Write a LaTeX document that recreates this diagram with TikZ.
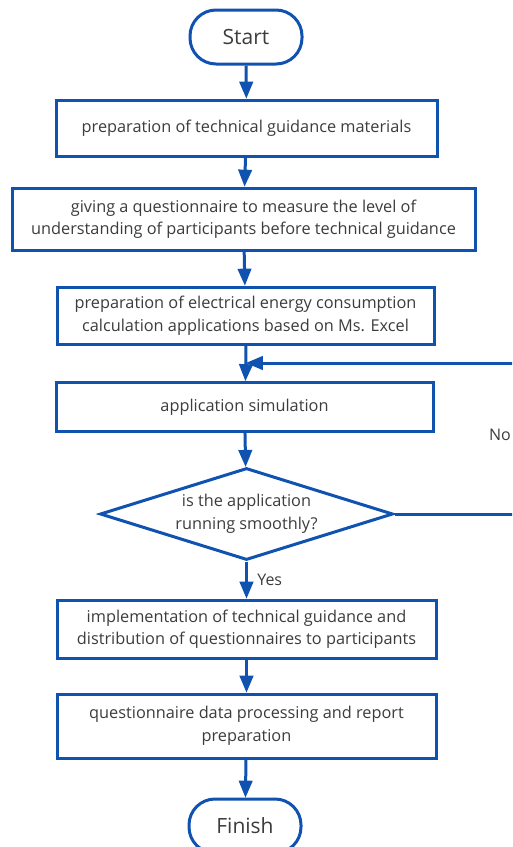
\documentclass[tikz,border=0pt]{standalone}
\usepackage{fontspec}
\setmainfont{Open Sans}
\usepackage{tikz}
\usetikzlibrary{shapes,arrows}

\definecolor{flowblue}{RGB}{16,82,176}
\definecolor{flowtext}{RGB}{60,60,60}

\tikzset{
	terminal/.style={draw=flowblue, line width=3pt, rounded corners=26pt, minimum width=112pt, minimum height=54pt, inner sep=0pt, text=flowtext, font=\fontsize{21}{24}\selectfont},
	process/.style={draw=flowblue, line width=3pt, fill=white, inner sep=0pt, align=center, text=flowtext, font=\fontsize{16.3}{22.5}\selectfont},
	decision/.style={draw=flowblue, line width=3pt, diamond, aspect=3.2, inner sep=0pt, align=center, text=flowtext, font=\fontsize{16.3}{23}\selectfont},
	flow/.style={draw=flowblue, line width=3pt, -triangle 45},
	flowline/.style={draw=flowblue, line width=3pt},
	answer/.style={text=flowtext, font=\fontsize{16}{18}\selectfont}
}

\begin{document}
\begin{tikzpicture}[x=1pt, y=1pt]
			\clip (0, 0) rectangle (512, -847);
			\useasboundingbox (0, 0) rectangle (512, -847);
			
			\node[terminal] (start) at (246, -37) {Start};
			\node[process, minimum width=381pt, minimum height=56pt] (materials) at (246.5, -128) {preparation of technical guidance materials};
			\node[process, minimum width=463pt, minimum height=62pt] (pretest) at (243.5, -219) {giving a questionnaire to measure the level of\\understanding of participants before technical guidance};
			\node[process, minimum width=377pt, minimum height=57pt] (excel) at (245.5, -315.5) {preparation of electrical energy consumption\\calculation applications based on Ms. Excel};
			\coordinate (join) at (246, -363);
			\node[process, minimum width=377pt, minimum height=49pt] (simulation) at (244.5, -407) {application simulation};
			\node[decision, minimum width=293pt, minimum height=92pt] (check) at (246.5, -514) {is the application\\running smoothly?};
			\node[process, minimum width=379pt, minimum height=58pt] (guidance) at (246.5, -629) {implementation of technical guidance and\\distribution of questionnaires to participants};
			\node[process, minimum width=379pt, minimum height=64pt] (report) at (246.5, -726) {questionnaire data processing and report\\preparation};
			\node[terminal] (finish) at (245, -826) {Finish};
			\coordinate (noturn) at (535, -514);
			\coordinate (noback) at (535, -363);
			
			\draw[flow] (start) -- (materials);
			\draw[flow] (materials) -- (pretest);
			\draw[flow] (pretest) -- (excel);
			\draw[flowline] (excel) -- (join);
			\draw[flow] (join) -- (simulation);
			\draw[flow] (simulation) -- (check);
			\draw[flow] (check) -- node[answer, right=6pt] {Yes} (guidance);
			\draw[flow] (guidance) -- (report);
			\draw[flow] (report) -- (finish);
			\draw[flowline] (check.east) -- (noturn) -- (noback);
			\draw[flow] (noback) -- (join);
			\node[answer] (nolabel) at (500, -435) {No};
\end{tikzpicture}
\end{document}
